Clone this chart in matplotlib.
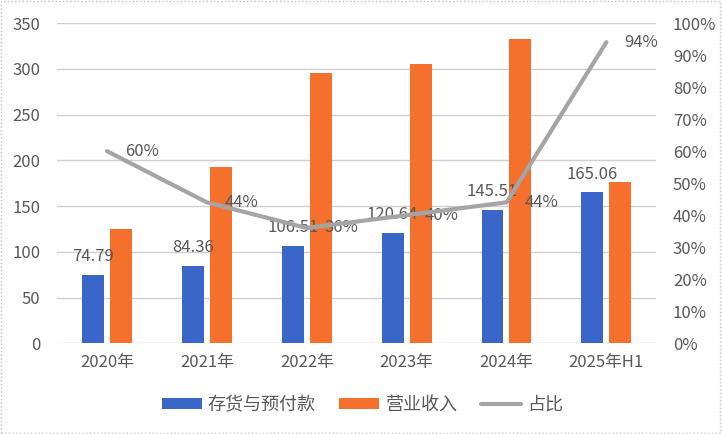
import matplotlib.pyplot as plt
import numpy as np
from matplotlib.patches import Rectangle

plt.rcParams['font.family'] = ['Noto Sans CJK SC', 'DejaVu Sans']

# data
years = ['2020年', '2021年', '2022年', '2023年', '2024年', '2025年H1']
stock = [74.79, 84.36, 106.51, 120.64, 145.51, 165.06]   # 存货与预付款
revenue = [125, 193, 295, 305, 333, 176]                 # 营业收入
ratio = [60, 44, 36, 40, 44, 94]                          # 占比 %

c_blue = '#3B66C9'
c_orange = '#F5702D'
c_gray = '#A5A5A5'
c_text = '#595959'

fig = plt.figure(figsize=(7.22, 4.34), dpi=100)
ax = fig.add_axes([0.079, 0.209, 0.830, 0.738])
ax2 = ax.twinx()   # sits above ax, so the line goes over the bars

x = np.arange(len(years))
w = 0.22
b1 = ax.bar(x - 0.14, stock, w, color=c_blue, zorder=3)
b2 = ax.bar(x + 0.14, revenue, w, color=c_orange, zorder=3)

for xi, v in zip(x, stock):
    ax.annotate(f'{v:.2f}', (xi - 0.14, v), xytext=(0, 7), textcoords='offset points',
                ha='center', va='bottom', fontsize=12, color=c_text, zorder=5)

ln, = ax2.plot(x, ratio, color=c_gray, lw=3, zorder=4, solid_capstyle='round')
for xi, v in zip(x, ratio):
    ax2.annotate(f'{v}%', (xi, v), xytext=(13, 0), textcoords='offset points',
                 ha='left', va='center', fontsize=12, color=c_text)

ax.set_xlim(-0.5, len(years) - 0.5)
ax.set_ylim(0, 350)
ax.set_yticks(range(0, 351, 50))
ax2.set_ylim(0, 100)
ax2.set_yticks(range(0, 101, 10))
ax2.set_yticklabels([f'{t}%' for t in range(0, 101, 10)])

ax.set_xticks(x)
ax.set_xticklabels(years)
ax.grid(axis='y', color='#D0D0D0', lw=1, zorder=0)
ax.set_axisbelow(True)

for a in (ax, ax2):
    for s in a.spines.values():
        s.set_visible(False)
    a.tick_params(length=0, labelsize=12, colors=c_text)
ax.tick_params(axis='y', pad=12)
ax.tick_params(axis='x', pad=8)
ax2.tick_params(axis='y', pad=12)

fig.legend([b1, b2, ln], ['存货与预付款', '营业收入', '占比'], loc='center',
           bbox_to_anchor=(0.502, 0.067), ncol=3, frameon=False, fontsize=13,
           labelcolor=c_text, handlelength=2.2, handleheight=0.55, columnspacing=1.3,
           handletextpad=0.35)

fig.patches.append(Rectangle((0.002, 0.003), 0.995, 0.994, transform=fig.transFigure,
                             fill=False, ec='#BFBFBF', lw=1, ls=':'))

fig.savefig('out.png', dpi=100)
